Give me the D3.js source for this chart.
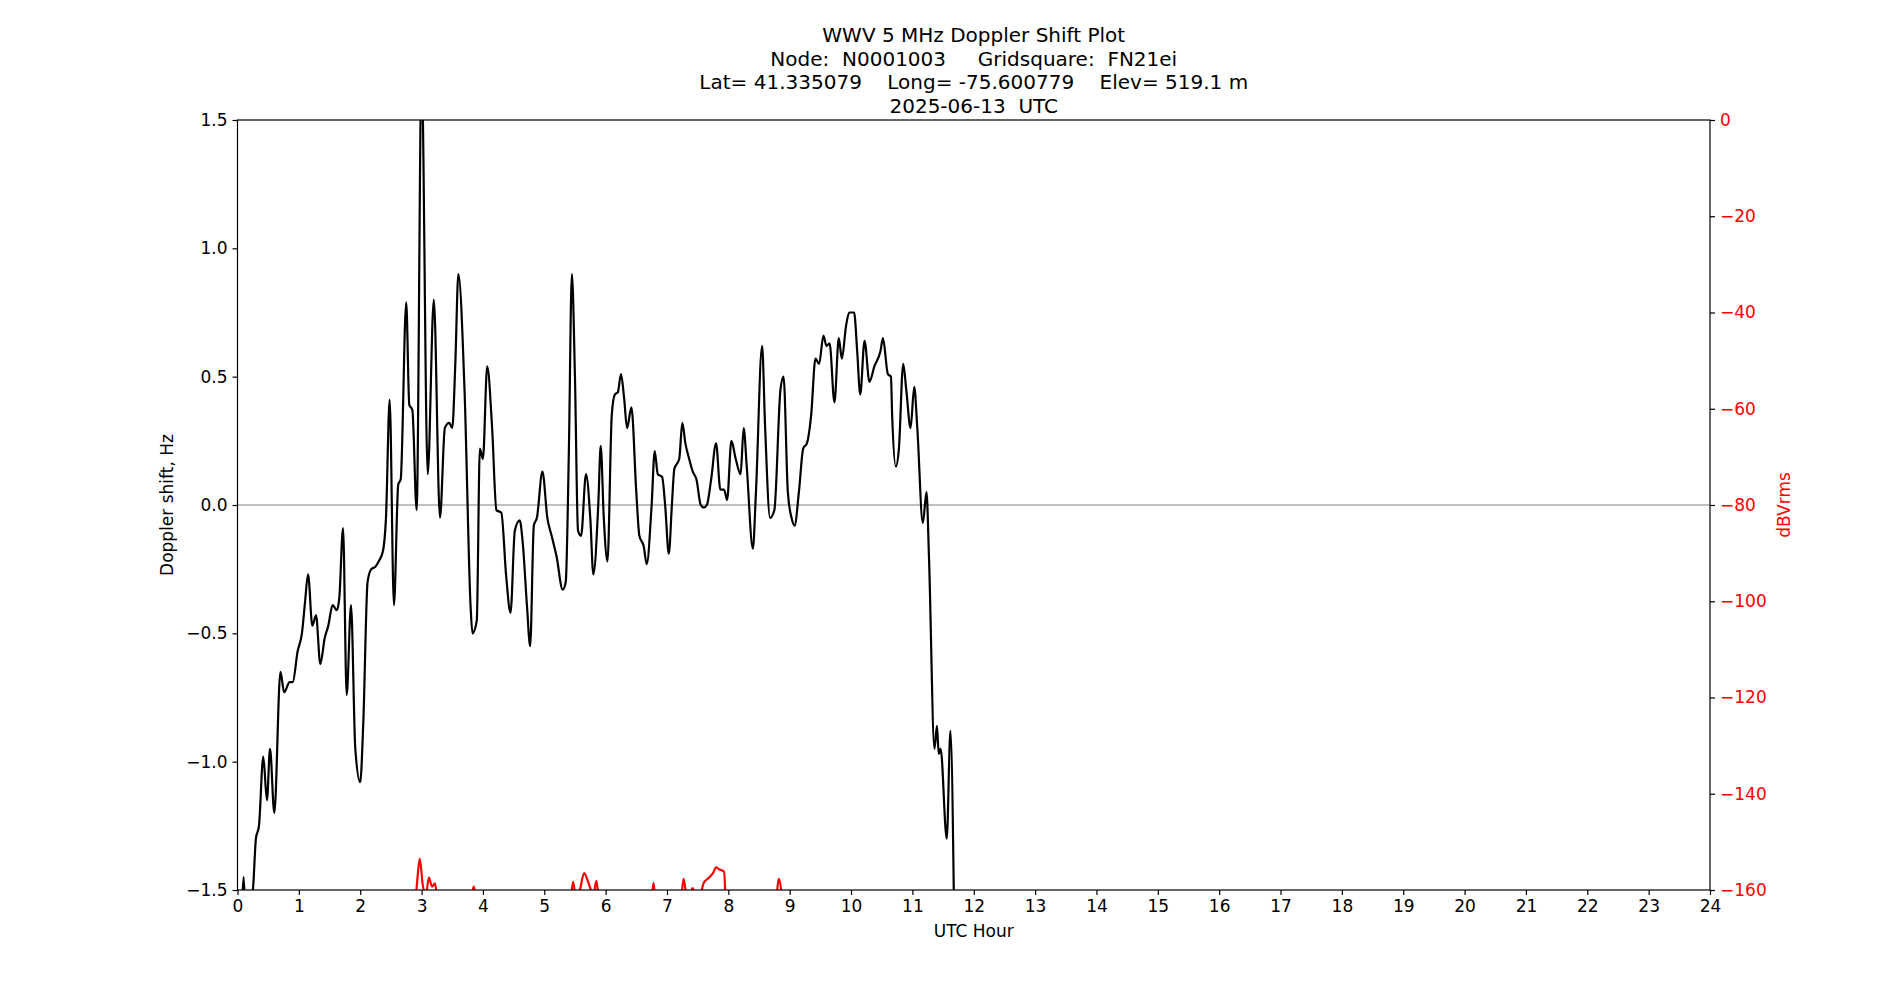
<!DOCTYPE html>
<html>
<head>
<meta charset="utf-8">
<script src="https://cdn.jsdelivr.net/npm/d3@7"></script>
<style>
  body { margin: 0; background: #fff; }
  text { font-family: "DejaVu Sans", sans-serif; white-space: pre; }
</style>
</head>
<body>
<div id="chart"></div>
<script>
/* data */
var titleLines = ["WWV 5 MHz Doppler Shift Plot",
                  "Node:  N0001003     Gridsquare:  FN21ei",
                  "Lat= 41.335079    Long= -75.600779    Elev= 519.1 m",
                  "2025-06-13  UTC"];
var hourTicks = d3.range(0, 25);
var dopplerTicks = [-1.5, -1.0, -0.5, 0.0, 0.5, 1.0, 1.5];
var powerTicks = [0, -20, -40, -60, -80, -100, -120, -140, -160];

var dopHours = [0,0.06,0.1,0.13,0.25,0.3,0.35,0.42,0.48,0.53,0.6,0.7,0.76,0.85,0.9,0.98,1.05,1.1,1.15,1.22,1.28,1.35,1.42,1.48,1.55,1.62,1.66,1.72,1.78,1.85,1.92,2.0,2.05,2.12,2.18,2.25,2.3,2.37,2.42,2.48,2.55,2.62,2.66,2.75,2.8,2.85,2.92,3.0,3.1,3.2,3.3,3.38,3.45,3.5,3.55,3.6,3.7,3.8,3.83,3.9,3.95,4.0,4.07,4.15,4.22,4.3,4.38,4.45,4.52,4.6,4.65,4.72,4.77,4.83,4.88,4.97,5.05,5.12,5.2,5.3,5.35,5.4,5.45,5.5,5.55,5.6,5.68,5.75,5.8,5.88,5.92,5.97,6.03,6.1,6.15,6.2,6.25,6.3,6.35,6.42,6.5,6.55,6.62,6.67,6.75,6.8,6.85,6.92,6.97,7.03,7.08,7.12,7.2,7.25,7.3,7.35,7.42,7.48,7.55,7.6,7.65,7.72,7.8,7.87,7.93,7.98,8.05,8.12,8.2,8.25,8.3,8.4,8.45,8.55,8.6,8.68,8.75,8.85,8.9,8.97,9.03,9.08,9.15,9.22,9.28,9.35,9.42,9.48,9.55,9.6,9.65,9.73,9.8,9.85,9.92,9.97,10.05,10.1,10.15,10.22,10.3,10.38,10.48,10.52,10.6,10.65,10.67,10.73,10.78,10.85,10.9,10.97,11.03,11.08,11.17,11.23,11.27,11.36,11.4,11.43,11.46,11.56,11.62,11.68];
var dopShift = [-1.6,-1.6,-1.45,-1.6,-1.5,-1.3,-1.25,-0.98,-1.15,-0.95,-1.2,-0.65,-0.73,-0.69,-0.69,-0.57,-0.5,-0.38,-0.27,-0.47,-0.43,-0.62,-0.52,-0.47,-0.39,-0.41,-0.36,-0.09,-0.74,-0.39,-0.95,-1.08,-0.85,-0.3,-0.25,-0.24,-0.22,-0.18,-0.05,0.41,-0.39,0.08,0.1,0.79,0.39,0.37,-0.02,1.7,0.12,0.8,-0.05,0.3,0.32,0.3,0.55,0.9,0.45,-0.4,-0.5,-0.45,0.22,0.18,0.54,0.3,-0.02,-0.03,-0.28,-0.42,-0.1,-0.06,-0.15,-0.4,-0.55,-0.08,-0.05,0.13,-0.05,-0.12,-0.2,-0.33,-0.3,0.2,0.9,0.5,-0.1,-0.12,0.12,-0.05,-0.27,0.0,0.23,-0.05,-0.22,0.35,0.43,0.44,0.51,0.42,0.3,0.38,0.05,-0.12,-0.16,-0.23,0.0,0.21,0.12,0.11,0.0,-0.19,0.0,0.14,0.18,0.32,0.24,0.19,0.13,0.1,0.0,-0.01,0.0,0.1,0.24,0.06,0.06,0.02,0.25,0.18,0.12,0.3,0.15,-0.17,0.05,0.62,0.3,-0.05,-0.02,0.45,0.5,0.05,-0.05,-0.08,0.05,0.22,0.24,0.35,0.57,0.55,0.66,0.62,0.63,0.4,0.65,0.57,0.7,0.75,0.75,0.6,0.43,0.64,0.48,0.54,0.6,0.65,0.51,0.5,0.35,0.15,0.22,0.55,0.45,0.3,0.46,0.3,-0.07,0.05,-0.2,-0.95,-0.86,-0.97,-0.95,-1.3,-0.88,-1.6];

var pwrHours = [2.88,2.93,2.97,3.02,3.07,3.12,3.17,3.22,3.27,3.8,3.85,3.9,5.42,5.47,5.52,5.58,5.65,5.72,5.8,5.85,5.9,6.74,6.78,6.82,7.22,7.27,7.32,7.38,7.42,7.46,7.52,7.6,7.68,7.75,7.8,7.85,7.93,7.97,8.77,8.82,8.88];
var pwrDb = [-166,-158,-153.5,-159,-161,-157.4,-159.3,-158.6,-163,-162,-159.3,-162,-163,-158.3,-162,-160,-156.5,-158.5,-161,-158.1,-163,-163,-158.5,-163,-163,-157.7,-161,-160.5,-159.6,-161,-162,-158.5,-157.5,-156.5,-155.3,-155.7,-156.2,-165,-163,-157.7,-162];

/* layout */
var W = 1900, H = 1000;
var plotLeft = 237.5, plotRight = 1710, plotTop = 120, plotBottom = 890;

var svg = d3.select("#chart").append("svg")
    .attr("width", W)
    .attr("height", H);

var x = d3.scaleLinear().domain([0, 24]).range([plotLeft, plotRight]);
var y = d3.scaleLinear().domain([-1.5, 1.5]).range([plotBottom, plotTop]);
var y2 = d3.scaleLinear().domain([-160, 0]).range([plotBottom, plotTop]);

svg.append("clipPath").attr("id", "plotArea")
    .append("rect")
    .attr("x", plotLeft).attr("y", plotTop)
    .attr("width", plotRight - plotLeft).attr("height", plotBottom - plotTop);

// zero line
svg.append("line")
    .attr("x1", plotLeft).attr("x2", plotRight)
    .attr("y1", y(0)).attr("y2", y(0))
    .attr("stroke", "#808080").attr("stroke-width", 1.2);

// power (red) line
var pwrLine = d3.line()
    .x(function(d){ return x(d[0]); })
    .y(function(d){ return y2(d[1]); })
    .curve(d3.curveMonotoneX);
svg.append("path")
    .datum(d3.zip(pwrHours, pwrDb))
    .attr("d", pwrLine)
    .attr("clip-path", "url(#plotArea)")
    .attr("fill", "none").attr("stroke", "red").attr("stroke-width", 2.2);

// doppler (black) line
var dopLine = d3.line()
    .x(function(d){ return x(d[0]); })
    .y(function(d){ return y(d[1]); })
    .curve(d3.curveMonotoneX);
svg.append("path")
    .datum(d3.zip(dopHours, dopShift))
    .attr("d", dopLine)
    .attr("clip-path", "url(#plotArea)")
    .attr("fill", "none").attr("stroke", "black").attr("stroke-width", 2.2);

// frame
svg.append("rect")
    .attr("x", plotLeft).attr("y", plotTop)
    .attr("width", plotRight - plotLeft).attr("height", plotBottom - plotTop)
    .attr("fill", "none").attr("stroke", "black").attr("stroke-width", 1.2);

// axes
var xAxis = svg.append("g").attr("transform", "translate(0," + plotBottom + ")")
    .call(d3.axisBottom(x).tickValues(hourTicks).tickSize(5).tickPadding(5).tickFormat(d3.format("d")));
var yAxis = svg.append("g").attr("transform", "translate(" + plotLeft + ",0)")
    .call(d3.axisLeft(y).tickValues(dopplerTicks).tickSize(5).tickPadding(5)
        .tickFormat(function(d){ return d3.format(".1f")(d).replace("-", "\u2212").replace("\u22120.0", "0.0"); }));
var y2Axis = svg.append("g").attr("transform", "translate(" + plotRight + ",0)")
    .call(d3.axisRight(y2).tickValues(powerTicks).tickSize(5).tickPadding(5)
        .tickFormat(function(d){ return String(d).replace("-", "\u2212"); }));

[xAxis, yAxis, y2Axis].forEach(function(a){
    a.select(".domain").remove();
    a.selectAll("line").attr("stroke", "black").attr("stroke-width", 1.2);
    a.selectAll("text").attr("font-size", 17).attr("fill", "black")
        .style("font-family", "DejaVu Sans");
});
y2Axis.selectAll("text").attr("fill", "red");

// axis labels
svg.append("text").attr("x", (plotLeft + plotRight) / 2).attr("y", 937)
    .attr("text-anchor", "middle").attr("font-size", 17).text("UTC Hour");
svg.append("text").attr("transform", "translate(173," + (plotTop + plotBottom) / 2 + ") rotate(-90)")
    .attr("text-anchor", "middle").attr("font-size", 17).text("Doppler shift, Hz");
svg.append("text").attr("transform", "translate(1790," + (plotTop + plotBottom) / 2 + ") rotate(-90)")
    .attr("text-anchor", "middle").attr("font-size", 17).attr("fill", "red").text("dBVrms");

// title
svg.selectAll("text.title")
    .data(titleLines)
    .enter()
    .append("text")
    .attr("class", "title")
    .attr("x", (plotLeft + plotRight) / 2)
    .attr("y", function(d, i){ return 42 + 23.5 * i; })
    .attr("text-anchor", "middle")
    .attr("font-size", 20)
    .text(function(d){ return d; });
</script>
</body>
</html>
